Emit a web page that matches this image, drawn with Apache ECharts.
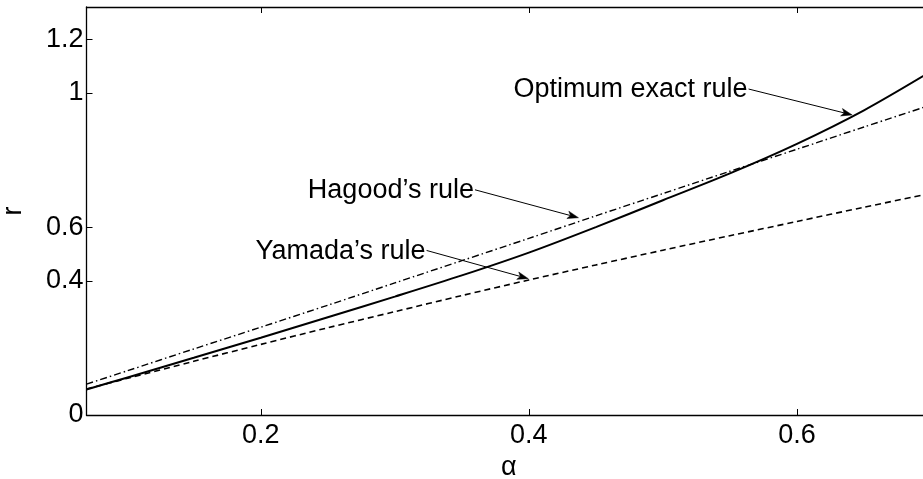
<!DOCTYPE html>
<html><head><meta charset="utf-8">
<script src="https://cdn.jsdelivr.net/npm/echarts@6/dist/echarts.min.js"></script>
<style>html,body{margin:0;padding:0;background:#fff}#c{width:923px;height:479px}</style>
</head><body><div id="c"></div>
<script>
// ---- data ----
const alpha   = [0.07, 0.10, 0.15, 0.20, 0.25, 0.30, 0.35, 0.40, 0.45, 0.50, 0.55, 0.60, 0.65, 0.70];
const optimum = [0.095, 0.139, 0.213, 0.288, 0.364, 0.441, 0.520, 0.605, 0.700, 0.800, 0.900, 1.010, 1.135, 1.280];
const hagood  = [0.115, 0.164, 0.246, 0.327, 0.409, 0.492, 0.575, 0.658, 0.742, 0.825, 0.908, 0.990, 1.073, 1.155];
const yamada  = [0.097, 0.136, 0.200, 0.263, 0.325, 0.385, 0.445, 0.503, 0.559, 0.614, 0.668, 0.721, 0.774, 0.826];
const xTicks = [0.2, 0.4, 0.6];
const yTickPos = [0, 0.5, 0.7, 1.2, 1.4];
const yTickLabels = ['0', '0.4', '0.6', '1', '1.2'];
const annTexts = ['Optimum exact rule', 'Hagood\u2019s rule', 'Yamada\u2019s rule'];
const annTails = [[0.5639, 1.2145], [0.3598, 0.839], [0.3237, 0.613]];
const annHeads = [[0.6412, 1.118], [0.437, 0.735], [0.3996, 0.508]];

const FONT = '"Liberation Sans", Arial, Helvetica, sans-serif';
const chart = echarts.init(document.getElementById('c'), null, {renderer: 'canvas'});
const pairs = v => alpha.map((a, i) => [a, v[i]]);

const baseLine = {show: true, lineStyle: {color: '#000', width: 1.3}};
chart.setOption({
  animation: false,
  backgroundColor: '#fff',
  grid: {left: 86.5, right: -8, top: 7, bottom: 64, containLabel: false, outerBoundsMode: 'none'},
  xAxis: [{
    type: 'value', min: 0.07, max: 0.7, position: 'bottom',
    name: '\u03b1', nameLocation: 'middle', nameGap: 37,
    nameTextStyle: {fontFamily: FONT, fontSize: 27, color: '#000'},
    axisLine: baseLine,
    axisTick: {show: true, inside: true, length: 6, customValues: xTicks, lineStyle: {color: '#000', width: 1}},
    axisLabel: {show: true, customValues: xTicks, margin: 7, fontFamily: FONT, fontSize: 27, color: '#000',
      formatter: v => String(v)},
    splitLine: {show: false}
  }, {
    type: 'value', min: 0.07, max: 0.7, position: 'top',
    axisLine: baseLine,
    axisTick: {show: true, inside: true, length: 6, customValues: xTicks, lineStyle: {color: '#000', width: 1}},
    axisLabel: {show: false}, splitLine: {show: false}
  }],
  yAxis: [{
    type: 'value', min: 0, max: 1.52, position: 'left',
    name: 'r', nameLocation: 'middle', nameGap: 59,
    nameTextStyle: {fontFamily: FONT, fontSize: 27, color: '#000'},
    axisLine: baseLine,
    axisTick: {show: true, inside: true, length: 6, customValues: yTickPos, lineStyle: {color: '#000', width: 1}},
    axisLabel: {show: true, customValues: yTickPos, margin: 3, fontFamily: FONT, fontSize: 27, color: '#000',
      formatter: v => { const i = yTickPos.indexOf(v); return i >= 0 ? yTickLabels[i] : ''; }},
    splitLine: {show: false}
  }],
  series: [
    {name: 'Optimum exact rule', type: 'line', data: pairs(optimum), showSymbol: false, smooth: 0.3,
     lineStyle: {color: '#000', width: 2, type: 'solid'}},
    {name: 'Hagood\u2019s rule', type: 'line', data: pairs(hagood), showSymbol: false, smooth: 0.3,
     lineStyle: {color: '#000', width: 1.4, type: [7, 3, 1.5, 3]}},
    {name: 'Yamada\u2019s rule', type: 'line', data: pairs(yamada), showSymbol: false, smooth: 0.3,
     lineStyle: {color: '#000', width: 1.6, type: [6, 4]}}
  ]
});

// ---- annotations with arrows, placed through the axes' scales ----
const graphics = [];
annTexts.forEach((t, i) => {
  const p0 = chart.convertToPixel({gridIndex: 0}, annTails[i]);
  const p1 = chart.convertToPixel({gridIndex: 0}, annHeads[i]);
  const dx = p1[0] - p0[0], dy = p1[1] - p0[1];
  const len = Math.hypot(dx, dy);
  const ux = dx / len, uy = dy / len, nx = -uy, ny = ux;
  const L = 11, W = 3.8;
  const base = [p1[0] - L * ux, p1[1] - L * uy];
  const notch = [p1[0] - 0.75 * L * ux, p1[1] - 0.75 * L * uy];
  graphics.push({type: 'line', shape: {x1: p0[0], y1: p0[1], x2: notch[0], y2: notch[1]},
    style: {stroke: '#000', lineWidth: 1}});
  graphics.push({type: 'polygon', shape: {points: [p1, [base[0] + W * nx, base[1] + W * ny], notch, [base[0] - W * nx, base[1] - W * ny]]},
    style: {fill: '#000', stroke: '#000', lineWidth: 0.5}});
  graphics.push({type: 'text', x: p0[0] - 1, y: p0[1] + 1,
    style: {text: t, font: '27px ' + FONT, fill: '#000', align: 'right', verticalAlign: 'middle'}});
});
chart.setOption({graphic: graphics});
</script>
</body></html>
